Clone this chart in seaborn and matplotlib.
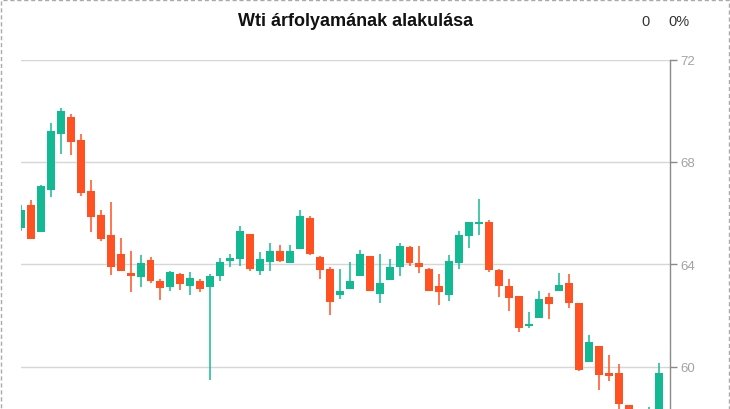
import matplotlib
matplotlib.use("Agg")
import numpy as np
import pandas as pd
import seaborn as sns
import matplotlib.pyplot as plt
from matplotlib.patches import Rectangle

title = "Wti árfolyamának alakulása"
change_abs = "0"
change_pct = "0%"
y_ticks = [60, 64, 68, 72]

opens = [65.42, 66.32, 65.26, 66.90, 69.09, 69.75, 68.86, 66.86, 65.93, 65.14,
         64.40, 63.66, 63.50, 64.17, 63.35, 63.11, 63.62, 63.15, 63.35, 63.11,
         63.54, 64.13, 64.21, 65.18, 63.74, 64.09, 64.52, 64.05, 64.60, 65.81,
         64.29, 63.82, 62.80, 63.04, 63.54, 64.32, 62.84, 63.39, 63.89, 64.68,
         64.05, 63.82, 63.15, 62.80, 64.05, 65.11, 65.57, 65.65, 63.78, 63.15,
         62.76, 61.59, 61.90, 62.72, 62.96, 63.27, 62.49, 60.18, 60.81, 59.75,
         59.75, 58.50, 58.00, 57.90, 58.10]
highs = [66.32, 66.51, 67.10, 69.52, 70.10, 69.87, 69.09, 67.29, 66.12, 66.43,
         65.03, 64.52, 64.36, 64.29, 63.43, 63.74, 63.66, 63.70, 63.43, 63.62,
         64.25, 64.40, 65.50, 65.18, 64.48, 64.83, 64.75, 64.75, 66.12, 65.89,
         64.32, 63.89, 63.82, 64.09, 64.56, 64.32, 64.40, 64.21, 64.83, 64.71,
         64.71, 63.85, 63.62, 64.36, 65.30, 65.65, 66.55, 65.73, 63.82, 63.43,
         62.76, 62.14, 62.96, 62.88, 63.66, 63.62, 62.49, 61.24, 60.81, 60.46,
         60.11, 58.50, 58.20, 58.42, 60.14]
lows = [65.30, 64.97, 65.26, 66.63, 68.31, 68.27, 66.67, 65.26, 64.91, 63.58,
        63.74, 62.92, 63.11, 63.27, 62.61, 62.96, 63.00, 62.80, 62.92, 59.48,
        63.35, 63.89, 63.93, 63.74, 63.58, 63.74, 64.09, 64.05, 64.60, 64.36,
        63.43, 62.02, 62.64, 63.04, 63.54, 62.96, 62.49, 63.39, 63.54, 63.93,
        63.66, 62.96, 62.41, 62.57, 63.82, 64.64, 65.14, 63.70, 62.72, 62.18,
        61.36, 61.51, 61.90, 61.86, 62.96, 62.29, 59.83, 60.18, 59.09, 59.44,
        58.20, 57.80, 57.50, 57.70, 58.00]
closes = [66.12, 64.99, 67.06, 69.21, 69.99, 68.78, 66.79, 65.85, 64.99, 63.89,
          63.74, 63.54, 64.05, 63.35, 63.07, 63.70, 63.23, 63.46, 63.04, 63.54,
          64.09, 64.25, 65.30, 63.82, 64.21, 64.52, 64.13, 64.52, 65.89, 64.40,
          63.78, 62.53, 62.96, 63.35, 64.40, 62.96, 63.27, 63.89, 64.71, 64.05,
          63.89, 62.96, 62.92, 64.13, 65.14, 65.65, 65.65, 63.78, 63.15, 62.68,
          61.51, 61.67, 62.64, 62.45, 63.19, 62.49, 59.87, 60.96, 59.68, 59.64,
          58.54, 57.95, 57.70, 58.20, 59.75]

df = pd.DataFrame({"open": opens, "high": highs, "low": lows, "close": closes})
df["idx"] = np.arange(len(df))
df["up"] = df["close"] >= df["open"]
df["bottom"] = df[["open", "close"]].min(axis=1)
df["height"] = (df["close"] - df["open"]).abs().clip(lower=0.07)

GREEN = "#13b993"
RED = "#ff5122"

sns.set_theme(style="white")
plt.rcParams["font.family"] = ["Liberation Sans", "DejaVu Sans"]

fig = plt.figure(figsize=(7.3, 4.1), dpi=100)
ax = fig.add_axes([21 / 730, 0, (669.5 - 21) / 730, (410 - 60.5) / 410])

for t in y_ticks:
    ax.axhline(t, color="#d6d6d6", lw=1, zorder=0)

colors = np.where(df["up"], GREEN, RED)
ax.vlines(df["idx"], df["low"], df["high"], colors=colors, lw=1.1, zorder=2)
ax.bar(df["idx"], df["height"], bottom=df["bottom"], width=0.8,
       color=colors, edgecolor="none", zorder=3)

ax.set_xlim(0, 65.1)
ax.set_ylim(58.35, 72)
ax.set_xticks([])
ax.yaxis.tick_right()
ax.set_yticks(y_ticks)
ax.set_yticklabels([str(t) for t in y_ticks])
ax.tick_params(axis="y", colors="#8a8a8a", labelcolor="#a3a3a3", length=5,
               width=1, pad=3, labelsize=9.5, right=True, left=False)
for s in ["top", "left", "bottom"]:
    ax.spines[s].set_visible(False)
ax.spines["right"].set_color("#8a8a8a")
ax.spines["right"].set_linewidth(1)
ax.set_facecolor("white")

fig.text(356 / 730, 1 - 21 / 410, title, ha="center", va="center",
         fontsize=13, fontweight="bold", color="#111111")
fig.text(645.5 / 730, 1 - 21.5 / 410, change_abs, ha="center", va="center",
         fontsize=10.5, color="#333333")
fig.text(679 / 730, 1 - 21.5 / 410, change_pct, ha="center", va="center",
         fontsize=10.5, color="#333333")

border = Rectangle((0.5 / 730, -0.01), 728.5 / 730, 1.0 - 0.5 / 410 + 0.01,
                   transform=fig.transFigure, fill=False, edgecolor="#aaaaaa",
                   lw=1, ls=(0, (3, 2)), clip_on=False)
fig.patches.append(border)

fig.savefig("out.png", dpi=100, facecolor="white")
